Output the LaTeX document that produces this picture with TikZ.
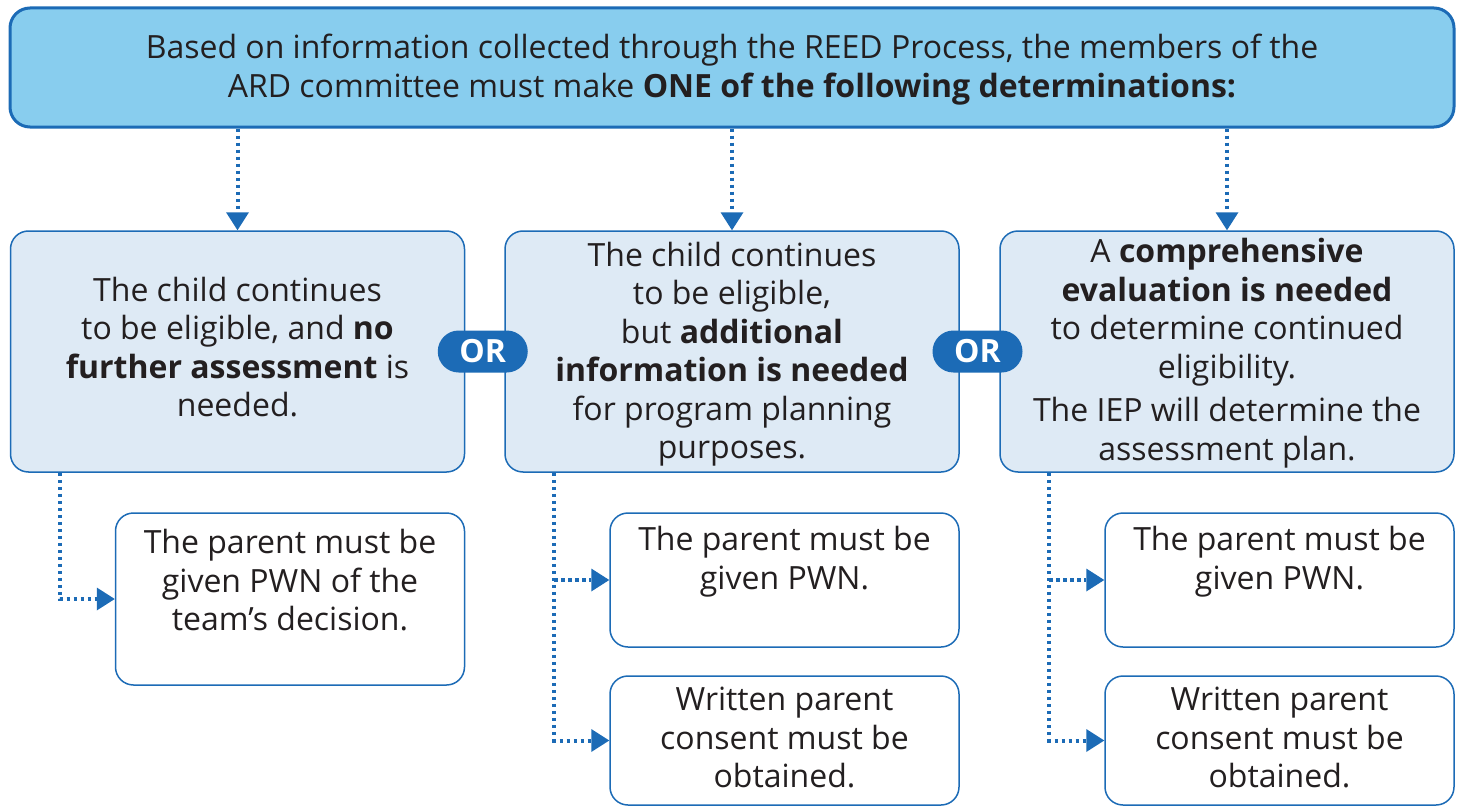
\documentclass[tikz,border=0pt]{standalone}
\usepackage{fontspec}
\setmainfont{Open Sans}
\usetikzlibrary{arrows.meta,calc}
\definecolor{topfill}{HTML}{88CDEE}
\definecolor{bblue}{HTML}{1C6BB6}
\definecolor{midfill}{HTML}{DEEAF5}
\definecolor{textc}{HTML}{231F20}
\begin{document}
\begin{tikzpicture}[x=1pt,y=-1pt,
  txt/.style={align=center, font=\fontsize{32}{38.5}\selectfont, text=textc, inner sep=0pt},
  topbox/.style={draw=bblue, line width=3pt, fill=topfill, rounded corners=20pt, minimum width=1444pt, minimum height=119pt},
  midbox/.style={draw=bblue, line width=1.5pt, fill=midfill, rounded corners=18pt, minimum width=454pt, minimum height=241pt},
  lowbox/.style={draw=bblue, line width=1.5pt, fill=white, rounded corners=18pt, minimum width=349pt},
  orpill/.style={fill=bblue, text=white, rounded corners=21pt, minimum width=90pt, minimum height=42pt, inner sep=0pt, font=\fontsize{32}{32}\selectfont\bfseries},
  conn/.style={draw=bblue, line width=4pt, dash pattern=on 3.5pt off 3.5pt, -{Triangle[length=18pt,width=23pt,line width=0pt]}},
]
\useasboundingbox (0,0) rectangle (1460,808);

\node[topbox] (top) at (732,67.5) {};
\node[txt, font=\fontsize{32}{39}\selectfont] (tt) at (732,70) {Based on information collected through the REED Process, the members of the\\ARD committee must make \textbf{ONE of the following determinations:}};

\node[midbox] (b1) at (237.5,351.5) {};
\node[txt] (t1) at (237.5,347) {The child continues\\to be eligible, and \textbf{no}\\\textbf{further assessment} is\\needed.};
\node[midbox] (b2) at (732,351.5) {};
\node[txt] (t2) at (732,354) {The child continues\\to be eligible,\\but \textbf{additional}\\\textbf{information is needed}\\for program planning\\purposes.};
\node[midbox] (b3) at (1227,351.5) {};
\node[txt] (t3) at (1227,353) {A \textbf{comprehensive}\\\textbf{evaluation is needed}\\to determine continued\\eligibility.\\[5pt]The IEP will determine the\\assessment plan.};

\node[orpill] (or1) at ($(b1.east)!0.5!(b2.west)+(-2,0)$) {OR};
\node[orpill] (or2) at ($(b2.east)!0.5!(b3.west)+(-2,0)$) {OR};

\node[lowbox, minimum height=172pt] (b1a) at (290,599) {};
\node[txt, anchor=north] (t1a) at ($(b1a.north)+(0,17)$) {The parent must be\\given PWN of the\\team’s decision.};
\node[lowbox, minimum height=134pt] (b2a) at (784.5,580) {};
\node[txt, anchor=north] (t2a) at ($(b2a.north)+(0,14)$) {The parent must be\\given PWN.};
\node[lowbox, minimum height=129pt] (b2b) at (784.5,740.5) {};
\node[txt, anchor=north] (t2b) at ($(b2b.north)+(0,12)$) {Written parent\\consent must be\\obtained.};
\node[lowbox, minimum height=134pt] (b3a) at (1279.5,580) {};
\node[txt, anchor=north] (t3a) at ($(b3a.north)+(0,14)$) {The parent must be\\given PWN.};
\node[lowbox, minimum height=129pt] (b3b) at (1279.5,740.5) {};
\node[txt, anchor=north] (t3b) at ($(b3b.north)+(0,12)$) {Written parent\\consent must be\\obtained.};

% top arrows
\draw[conn] (b1.north |- top.south) -- (b1.north);
\draw[conn] (b2.north |- top.south) -- (b2.north);
\draw[conn] (b3.north |- top.south) -- (b3.north);

% lower connectors
\coordinate (j1) at ($(b1.south west)+(50,0)$);
\draw[conn] (j1) |- (b1a.west);
\coordinate (j2) at ($(b2.south west)+(50,0)$);
\draw[conn] (j2) |- (b2b.west);
\draw[conn] (j2 |- b2a.west) -- (b2a.west);
\coordinate (j3) at ($(b3.south west)+(50,0)$);
\draw[conn] (j3) |- (b3b.west);
\draw[conn] (j3 |- b3a.west) -- (b3a.west);
\end{tikzpicture}
\end{document}
